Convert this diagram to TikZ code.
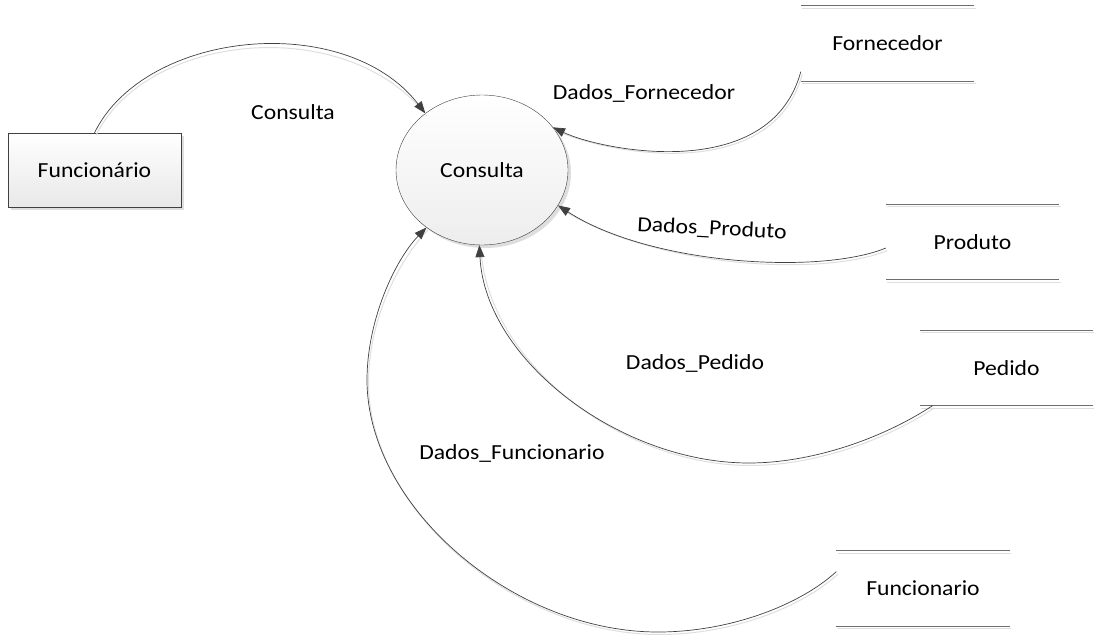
\documentclass[tikz,border=0pt]{standalone}
\usepackage{fontspec}
\setmainfont{Carlito}[FakeStretch=1.1]
\usepackage{tikz}
\usetikzlibrary{shapes.geometric,arrows.meta,shadows}

\definecolor{linegray}{RGB}{64,64,64}
\definecolor{storegray}{RGB}{110,110,110}
\definecolor{shadowgray}{RGB}{222,222,222}

\begin{document}
\begin{tikzpicture}[x=1pt,y=-1pt]
		\tikzset{every node/.style={font=\fontsize{21.5}{26}\selectfont}};
		\tikzset{entity/.style={rectangle,draw=linegray,minimum width=173pt,minimum height=74pt,inner sep=0pt,
				top color=white,bottom color=black!9,
				drop shadow={shadow xshift=3pt,shadow yshift=-3pt,fill=shadowgray,opacity=1}}};
		\tikzset{process/.style={ellipse,draw=linegray,minimum width=172pt,minimum height=150pt,inner sep=0pt,
				top color=white,bottom color=black!7,
				drop shadow={shadow xshift=3pt,shadow yshift=-3pt,fill=shadowgray,opacity=1}}};
		\tikzset{store/.style={rectangle,minimum width=173pt,minimum height=75pt,inner sep=0pt}};
		\tikzset{shade line/.style={preaction={draw=shadowgray,line width=1pt,-,transform canvas={shift={(1.5pt,-2.5pt)}}}}};
		\tikzset{storeline/.style={draw=storegray,line width=0.9pt,shade line}};
		\tikzset{flow/.style={draw=linegray,line width=0.7pt,shade line,-{Triangle[length=12pt,width=9pt]}}};
		
		\useasboundingbox (0,0) rectangle (1094,634);
		
		\node (funcb) at (94.5,170) [entity] {Funcionário};
		\node (proc) at (482,170) [process] {Consulta};
		\node (forn) at (887.5,43.5) [store] {Fornecedor};
		\node (prod) at (972.5,242) [store] {Produto};
		\node (ped) at (1006.5,368) [store] {Pedido};
		\node (func) at (923,588.5) [store] {Funcionario};
		
		\foreach \s in {forn,prod,ped,func}
		\draw [storeline] (\s.north west)--(\s.north east) (\s.south west)--(\s.south east);
		
		\draw [flow] (funcb.north) .. controls (145,30) and (345,10) .. (proc.135);
		\draw [flow] (forn.198) .. controls (770,185) and (600,150) .. (proc.31);
		\draw [flow] (prod.184) .. controls (820,275) and (650,265) .. (proc.335);
		\draw [flow] (ped.207) .. controls (880,440) and (810,463) .. (749,463)
			.. controls (620,463) and (485,360) .. (proc.268);
		\draw [flow] (func.169) .. controls (800,605) and (730,632) .. (658,632)
			.. controls (512,632) and (367,506) .. (367,380)
			.. controls (367,320) and (395,260) .. (proc.226);
		
		\node (lcons) at (293,112) {Consulta};
		\node (lforn) at (644,93) {Dados\_Fornecedor};
		\node (lprod) at (712,229) [rotate=-3] {Dados\_Produto};
		\node (lped) at (695,363) {Dados\_Pedido};
		\node (lfunc) at (512,453) {Dados\_Funcionario};
		\end{tikzpicture}
\end{document}
